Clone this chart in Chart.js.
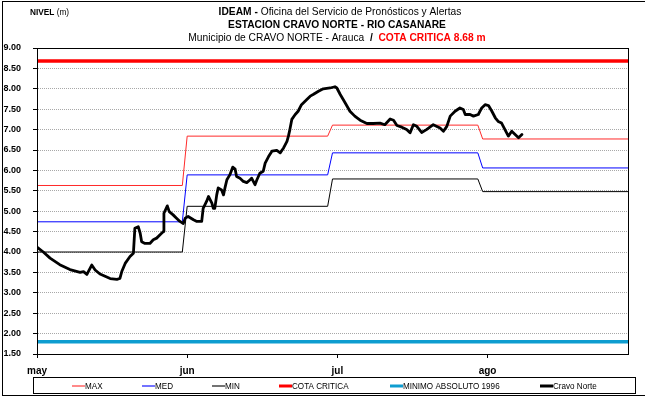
<!DOCTYPE html>
<html>
<head>
<meta charset="utf-8">
<script src="https://cdn.jsdelivr.net/npm/chart.js@4.4.1/dist/chart.umd.min.js"></script>
<style>
  html, body { margin: 0; padding: 0; background: #fff; }
  #nivel { display: block; }
</style>
</head>
<body>
<canvas id="nivel" width="645" height="398"></canvas>
<script>
// eje x en dias contados desde el 1 de mayo
const monthLabels = ['may', 'jun', 'jul', 'ago'];
const monthTicks = [0, 31, 62, 93];
const monthStart = [0, 31, 61, 92];
const monthEnd = [30, 60, 91, 122];

// niveles historicos mensuales (m)
const maxLevels = [5.63, 6.84, 7.11, 6.77];
const medLevels = [4.74, 5.89, 6.43, 6.06];
const minLevels = [4.00, 5.12, 5.79, 5.48];

const cotaCritica = 8.68;
const minimoAbsoluto = 1.80;

// lecturas de la estacion Cravo Norte
const cravoDays = [
  0, 1.3, 2.7, 4.7, 6.8, 8.9, 9.6, 10.3, 11.3, 12.0,
  13.0, 15.1, 16.5, 17.1, 17.5, 18.2, 19.2, 19.9, 20.2, 20.9,
  21.3, 21.6, 22.3, 23.3, 24.0, 24.7, 25.4, 26.1, 26.2, 26.9,
  27.3, 28.1, 28.8, 29.5, 30.2, 30.6, 31.2, 32.3, 33.0, 34.0,
  34.3, 35.0, 35.4, 36.1, 36.4, 36.7, 37.1, 37.4, 38.1, 38.5,
  38.8, 39.2, 39.8, 40.4, 40.9, 41.2, 41.9, 42.6, 43.3, 44.0,
  44.3, 45.0, 45.4, 46.0, 46.7, 47.1, 47.8, 48.5, 49.5, 50.2,
  50.9, 51.6, 51.9, 52.2, 52.6, 53.3, 53.9, 54.6, 55.7, 56.4,
  57.0, 58.1, 59.1, 60.5, 61.5, 61.9, 62.6, 63.6, 64.6, 65.6,
  66.7, 68.1, 69.4, 70.8, 71.8, 72.9, 73.6, 74.3, 75.3, 76.3,
  77.0, 77.7, 78.4, 79.4, 80.4, 81.8, 83.2, 83.9, 84.6, 85.3,
  86.3, 87.3, 88.0, 88.4, 89.4, 90.1, 91.1, 91.8, 92.5, 93.2,
  93.9, 94.6, 95.2, 95.9, 96.6, 97.3, 98.0, 98.7, 99.4, 100.1
];
const cravoLevels = [
  4.12, 4.00, 3.85, 3.69, 3.57, 3.50, 3.52, 3.45, 3.68, 3.56,
  3.46, 3.35, 3.33, 3.35, 3.52, 3.72, 3.89, 3.97, 4.58, 4.62,
  4.46, 4.25, 4.21, 4.21, 4.30, 4.34, 4.42, 4.50, 4.95, 5.13,
  4.99, 4.91, 4.83, 4.75, 4.70, 4.83, 4.87, 4.79, 4.75, 4.75,
  5.07, 5.24, 5.36, 5.20, 5.07, 5.07, 5.40, 5.57, 5.52, 5.40,
  5.57, 5.77, 5.89, 6.08, 6.03, 5.85, 5.81, 5.73, 5.70, 5.77,
  5.81, 5.65, 5.77, 5.93, 5.98, 6.18, 6.34, 6.47, 6.49, 6.43,
  6.55, 6.71, 6.84, 7.00, 7.25, 7.37, 7.45, 7.61, 7.74, 7.82,
  7.86, 7.94, 8.00, 8.02, 8.05, 8.02, 7.86, 7.66, 7.45, 7.33,
  7.23, 7.15, 7.15, 7.16, 7.12, 7.26, 7.23, 7.10, 7.06, 7.00,
  6.92, 7.12, 7.08, 6.93, 7.00, 7.12, 7.04, 6.96, 7.08, 7.33,
  7.45, 7.53, 7.49, 7.37, 7.37, 7.33, 7.37, 7.53, 7.61, 7.59,
  7.45, 7.29, 7.20, 7.16, 7.00, 6.84, 6.96, 6.88, 6.80, 6.88
];

const NARROW = '"Liberation Sans Narrow", "Arial Narrow", "Liberation Sans", Arial, sans-serif';
const ARIAL = '"Liberation Sans", Arial, sans-serif';

// escalones mensuales: un tramo plano por mes
function monthSteps(levels) {
  const pts = [];
  levels.forEach((v, i) => {
    pts.push({ x: monthStart[i], y: v }, { x: monthEnd[i], y: v });
  });
  return pts;
}

function flat(v) {
  return [{ x: monthStart[0], y: v }, { x: monthEnd[monthEnd.length - 1], y: v }];
}

const cravoPoints = cravoDays.map((d, i) => ({ x: d, y: cravoLevels[i] }));

// texto estrechado horizontalmente (tipo Arial Narrow)
function narrowText(ctx, text, x, y, sx) {
  ctx.save();
  ctx.translate(x, y);
  ctx.scale(sx, 1);
  ctx.fillText(text, 0, 0);
  ctx.restore();
  return ctx.measureText(text).width * sx;
}

// varios trozos con estilos distintos en una linea centrada
function drawRuns(ctx, runs, cx, y, sx) {
  let total = 0;
  runs.forEach(r => { ctx.font = r.font; total += ctx.measureText(r.text).width * sx; });
  let x = cx - total / 2;
  runs.forEach(r => {
    ctx.font = r.font;
    ctx.fillStyle = r.color || '#000';
    x += narrowText(ctx, r.text, x, y, sx);
  });
}

const legendX = [72, 142, 212, 279, 390, 540];

const decorations = {
  id: 'decorations',
  afterDraw(chart) {
    const ctx = chart.ctx;
    const ca = chart.chartArea;
    ctx.save();

    // marco exterior
    ctx.strokeStyle = '#000';
    ctx.lineWidth = 1;
    ctx.strokeRect(2.5, 1.5, 660, 394);

    // marco del area de trazado
    ctx.strokeRect(Math.round(ca.left) + 0.5, Math.round(ca.top) + 0.5,
      Math.round(ca.right - ca.left), Math.round(ca.bottom - ca.top));

    // titulos
    ctx.textBaseline = 'middle';
    ctx.textAlign = 'left';
    const bold = 'bold 11px ' + NARROW;
    const reg = '11px ' + NARROW;
    drawRuns(ctx, [
      { text: 'IDEAM - ', font: bold },
      { text: 'Oficina del Servicio de Pronósticos y Alertas', font: reg }
    ], 340, 12, 0.93);
    drawRuns(ctx, [{ text: 'ESTACION CRAVO NORTE - RIO CASANARE', font: bold }], 337, 24.5, 0.93);
    drawRuns(ctx, [
      { text: 'Municipio de CRAVO NORTE - Arauca ', font: reg },
      { text: ' /  ', font: bold },
      { text: 'COTA CRITICA 8.68 m', font: bold, color: '#ff0000' }
    ], 337, 37.5, 0.93);

    ctx.fillStyle = '#000';
    ctx.font = 'bold 9px ' + NARROW;
    const w = narrowText(ctx, 'NIVEL ', 30, 12.5, 0.92);
    ctx.font = '9px ' + NARROW;
    narrowText(ctx, '(m)', 30 + w, 12.5, 0.92);

    // leyenda
    ctx.strokeStyle = '#000';
    ctx.lineWidth = 1;
    ctx.strokeRect(33.5, 377.5, 602, 16);
    const ly = 386;
    chart.data.datasets.forEach((ds, i) => {
      const x = legendX[i];
      ctx.save();
      ctx.strokeStyle = ds.borderColor;
      if (ds.borderWidth < 2) {
        ctx.globalAlpha = 0.55;
        ctx.lineWidth = 2;
      } else {
        ctx.lineWidth = 3;
      }
      ctx.beginPath();
      ctx.moveTo(x, ly);
      ctx.lineTo(x + 13, ly);
      ctx.stroke();
      ctx.restore();
      ctx.font = '9px ' + NARROW;
      ctx.fillStyle = '#000';
      narrowText(ctx, ds.label, x + 13, ly + 0.5, 0.9);
    });

    ctx.restore();
  }
};

new Chart(document.getElementById('nivel'), {
  type: 'line',
  data: {
    datasets: [
      { label: 'MAX', data: monthSteps(maxLevels), borderColor: '#ff2a2a', borderWidth: 1, order: 3 },
      { label: 'MED', data: monthSteps(medLevels), borderColor: '#0000ff', borderWidth: 1, order: 4 },
      { label: 'MIN', data: monthSteps(minLevels), borderColor: '#000000', borderWidth: 1, order: 5 },
      { label: 'COTA CRITICA', data: flat(cotaCritica), borderColor: '#ff0000', borderWidth: 3.5, order: 1 },
      { label: 'MINIMO ABSOLUTO 1996', data: flat(minimoAbsoluto), borderColor: '#0e9dd0', borderWidth: 3.5, order: 2 },
      { label: 'Cravo Norte', data: cravoPoints, borderColor: '#000000', borderWidth: 2.8, order: 0 }
    ]
  },
  options: {
    responsive: false,
    animation: false,
    devicePixelRatio: 1,
    layout: { padding: { left: 0, top: 48, right: 17, bottom: 0 } },
    elements: {
      point: { radius: 0 },
      line: { tension: 0, fill: false, borderJoinStyle: 'round', borderCapStyle: 'round' }
    },
    plugins: {
      legend: { display: false },
      tooltip: { enabled: false },
      title: { display: false }
    },
    scales: {
      x: {
        type: 'linear',
        min: 0,
        max: 122,
        afterBuildTicks: s => { s.ticks = monthTicks.map(v => ({ value: v })); },
        afterFit: s => { s.height = 44; },
        ticks: {
          autoSkip: false,
          maxRotation: 0,
          padding: 7,
          color: '#000',
          font: { family: ARIAL, size: 10, weight: 'bold' },
          callback: v => monthLabels[monthTicks.indexOf(v)]
        },
        grid: { drawOnChartArea: false, tickLength: 4, tickColor: '#000', color: '#000' },
        border: { color: '#000', width: 1 }
      },
      y: {
        min: 1.5,
        max: 9,
        afterFit: s => { s.width = 37; },
        ticks: {
          stepSize: 0.5,
          padding: 12,
          color: '#000',
          font: { family: ARIAL, size: 9, weight: 'bold' },
          callback: v => v.toFixed(2)
        },
        grid: { color: '#a8a8a8', lineWidth: 1, tickLength: 4, tickColor: '#000', tickBorderDash: [] },
        border: { color: '#000', width: 1, dash: [1, 1] }
      }
    }
  },
  plugins: [decorations]
});
</script>
</body>
</html>
